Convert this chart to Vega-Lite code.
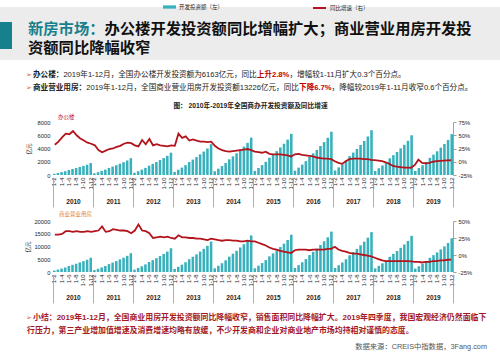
{
"$schema": "https://vega.github.io/schema/vega-lite/v6.json",
"padding": 0,
"spacing": 0,
"bounds": "flush",
"background": "#ffffff",
"config": {"font": "Liberation Sans, Noto Sans CJK SC", "view": {"stroke": null}, "axis": {"labelColor": "#262626", "titleColor": "#262626"}},
"datasets": {
"office": [
{"p":"2010 1-2","y":"2010","v":181,"g":32},{"p":"2010 1-3","y":"2010","v":307,"g":38},{"p":"2010 1-4","y":"2010","v":434,"g":46},{"p":"2010 1-5","y":"2010","v":578,"g":53},{"p":"2010 1-6","y":"2010","v":759,"g":52},{"p":"2010 1-7","y":"2010","v":904,"g":58},{"p":"2010 1-8","y":"2010","v":1048,"g":50},{"p":"2010 1-9","y":"2010","v":1211,"g":44},{"p":"2010 1-10","y":"2010","v":1373,"g":40},{"p":"2010 1-11","y":"2010","v":1554,"g":36},{"p":"2010 1-12","y":"2010","v":1807,"g":34},
{"p":"2011 1-2","y":"2011","v":254,"g":31},{"p":"2011 1-3","y":"2011","v":432,"g":22},{"p":"2011 1-4","y":"2011","v":611,"g":18},{"p":"2011 1-5","y":"2011","v":814,"g":21},{"p":"2011 1-6","y":"2011","v":1068,"g":24},{"p":"2011 1-7","y":"2011","v":1272,"g":25},{"p":"2011 1-8","y":"2011","v":1476,"g":28},{"p":"2011 1-9","y":"2011","v":1704,"g":30},{"p":"2011 1-10","y":"2011","v":1933,"g":34},{"p":"2011 1-11","y":"2011","v":2188,"g":36},{"p":"2011 1-12","y":"2011","v":2544,"g":35},
{"p":"2012 1-2","y":"2012","v":337,"g":31},{"p":"2012 1-3","y":"2012","v":572,"g":29},{"p":"2012 1-4","y":"2012","v":808,"g":41},{"p":"2012 1-5","y":"2012","v":1077,"g":33},{"p":"2012 1-6","y":"2012","v":1414,"g":43},{"p":"2012 1-7","y":"2012","v":1684,"g":31},{"p":"2012 1-8","y":"2012","v":1953,"g":33},{"p":"2012 1-9","y":"2012","v":2256,"g":31},{"p":"2012 1-10","y":"2012","v":2559,"g":30},{"p":"2012 1-11","y":"2012","v":2896,"g":29},{"p":"2012 1-12","y":"2012","v":3367,"g":31},
{"p":"2013 1-2","y":"2013","v":465,"g":30},{"p":"2013 1-3","y":"2013","v":791,"g":53},{"p":"2013 1-4","y":"2013","v":1116,"g":45},{"p":"2013 1-5","y":"2013","v":1489,"g":48},{"p":"2013 1-6","y":"2013","v":1954,"g":40},{"p":"2013 1-7","y":"2013","v":2326,"g":42},{"p":"2013 1-8","y":"2013","v":2698,"g":40},{"p":"2013 1-9","y":"2013","v":3117,"g":38},{"p":"2013 1-10","y":"2013","v":3536,"g":38},{"p":"2013 1-11","y":"2013","v":4001,"g":37},{"p":"2013 1-12","y":"2013","v":4652,"g":38},
{"p":"2014 1-2","y":"2014","v":564,"g":30},{"p":"2014 1-3","y":"2014","v":959,"g":25},{"p":"2014 1-4","y":"2014","v":1354,"g":22},{"p":"2014 1-5","y":"2014","v":1805,"g":20},{"p":"2014 1-6","y":"2014","v":2369,"g":19},{"p":"2014 1-7","y":"2014","v":2821,"g":20},{"p":"2014 1-8","y":"2014","v":3272,"g":21},{"p":"2014 1-9","y":"2014","v":3779,"g":22},{"p":"2014 1-10","y":"2014","v":4287,"g":23},{"p":"2014 1-11","y":"2014","v":4851,"g":24},{"p":"2014 1-12","y":"2014","v":5641,"g":22},
{"p":"2015 1-2","y":"2015","v":621,"g":19},{"p":"2015 1-3","y":"2015","v":1056,"g":18},{"p":"2015 1-4","y":"2015","v":1490,"g":17},{"p":"2015 1-5","y":"2015","v":1987,"g":19},{"p":"2015 1-6","y":"2015","v":2608,"g":15},{"p":"2015 1-7","y":"2015","v":3105,"g":14},{"p":"2015 1-8","y":"2015","v":3602,"g":14},{"p":"2015 1-9","y":"2015","v":4161,"g":14},{"p":"2015 1-10","y":"2015","v":4720,"g":13},{"p":"2015 1-11","y":"2015","v":5341,"g":12},{"p":"2015 1-12","y":"2015","v":6210,"g":10},
{"p":"2016 1-2","y":"2016","v":653,"g":14},{"p":"2016 1-3","y":"2016","v":1111,"g":15},{"p":"2016 1-4","y":"2016","v":1568,"g":13},{"p":"2016 1-5","y":"2016","v":2091,"g":12},{"p":"2016 1-6","y":"2016","v":2744,"g":11},{"p":"2016 1-7","y":"2016","v":3267,"g":10},{"p":"2016 1-8","y":"2016","v":3789,"g":8},{"p":"2016 1-9","y":"2016","v":4377,"g":7},{"p":"2016 1-10","y":"2016","v":4965,"g":6},{"p":"2016 1-11","y":"2016","v":5618,"g":6},{"p":"2016 1-12","y":"2016","v":6533,"g":5},
{"p":"2017 1-2","y":"2017","v":676,"g":1},{"p":"2017 1-3","y":"2017","v":1149,"g":-2},{"p":"2017 1-4","y":"2017","v":1623,"g":-4},{"p":"2017 1-5","y":"2017","v":2164,"g":1},{"p":"2017 1-6","y":"2017","v":2840,"g":5},{"p":"2017 1-7","y":"2017","v":3381,"g":6},{"p":"2017 1-8","y":"2017","v":3921,"g":6},{"p":"2017 1-9","y":"2017","v":4530,"g":6},{"p":"2017 1-10","y":"2017","v":5138,"g":5},{"p":"2017 1-11","y":"2017","v":5814,"g":5},{"p":"2017 1-12","y":"2017","v":6761,"g":3.5},
{"p":"2018 1-2","y":"2018","v":600,"g":3},{"p":"2018 1-3","y":"2018","v":1019,"g":2},{"p":"2018 1-4","y":"2018","v":1439,"g":1},{"p":"2018 1-5","y":"2018","v":1919,"g":-1},{"p":"2018 1-6","y":"2018","v":2518,"g":-4},{"p":"2018 1-7","y":"2018","v":2998,"g":-8},{"p":"2018 1-8","y":"2018","v":3478,"g":-9},{"p":"2018 1-9","y":"2018","v":4017,"g":-10},{"p":"2018 1-10","y":"2018","v":4557,"g":-11},{"p":"2018 1-11","y":"2018","v":5157,"g":-11},{"p":"2018 1-12","y":"2018","v":5996,"g":-11.3},
{"p":"2019 1-2","y":"2019","v":616,"g":-6},{"p":"2019 1-3","y":"2019","v":1048,"g":4},{"p":"2019 1-4","y":"2019","v":1479,"g":-2},{"p":"2019 1-5","y":"2019","v":1972,"g":-3},{"p":"2019 1-6","y":"2019","v":2588,"g":-2},{"p":"2019 1-7","y":"2019","v":3082,"g":0},{"p":"2019 1-8","y":"2019","v":3575,"g":1},{"p":"2019 1-9","y":"2019","v":4129,"g":1.5},{"p":"2019 1-10","y":"2019","v":4684,"g":2},{"p":"2019 1-11","y":"2019","v":5300,"g":2.5},{"p":"2019 1-12","y":"2019","v":6163,"g":2.8}
],
"comm": [
{"p":"2010 1-2","y":"2010","v":560,"g":30},{"p":"2010 1-3","y":"2010","v":952,"g":30},{"p":"2010 1-4","y":"2010","v":1344,"g":31},{"p":"2010 1-5","y":"2010","v":1792,"g":35},{"p":"2010 1-6","y":"2010","v":2352,"g":35},{"p":"2010 1-7","y":"2010","v":2800,"g":34},{"p":"2010 1-8","y":"2010","v":3247,"g":35},{"p":"2010 1-9","y":"2010","v":3751,"g":34},{"p":"2010 1-10","y":"2010","v":4255,"g":34},{"p":"2010 1-11","y":"2010","v":4815,"g":35},{"p":"2010 1-12","y":"2010","v":5599,"g":34},
{"p":"2011 1-2","y":"2011","v":737,"g":35},{"p":"2011 1-3","y":"2011","v":1253,"g":36},{"p":"2011 1-4","y":"2011","v":1769,"g":42},{"p":"2011 1-5","y":"2011","v":2358,"g":34},{"p":"2011 1-6","y":"2011","v":3095,"g":35},{"p":"2011 1-7","y":"2011","v":3685,"g":38},{"p":"2011 1-8","y":"2011","v":4275,"g":37},{"p":"2011 1-9","y":"2011","v":4938,"g":36},{"p":"2011 1-10","y":"2011","v":5601,"g":36},{"p":"2011 1-11","y":"2011","v":6338,"g":35},{"p":"2011 1-12","y":"2011","v":7370,"g":32},
{"p":"2012 1-2","y":"2012","v":931,"g":36},{"p":"2012 1-3","y":"2012","v":1583,"g":45},{"p":"2012 1-4","y":"2012","v":2235,"g":36},{"p":"2012 1-5","y":"2012","v":2980,"g":35},{"p":"2012 1-6","y":"2012","v":3911,"g":32},{"p":"2012 1-7","y":"2012","v":4656,"g":25},{"p":"2012 1-8","y":"2012","v":5401,"g":26},{"p":"2012 1-9","y":"2012","v":6239,"g":27},{"p":"2012 1-10","y":"2012","v":7077,"g":26},{"p":"2012 1-11","y":"2012","v":8008,"g":27},{"p":"2012 1-12","y":"2012","v":9312,"g":25},
{"p":"2013 1-2","y":"2013","v":1195,"g":24},{"p":"2013 1-3","y":"2013","v":2031,"g":29},{"p":"2013 1-4","y":"2013","v":2867,"g":26},{"p":"2013 1-5","y":"2013","v":3822,"g":26},{"p":"2013 1-6","y":"2013","v":5017,"g":25},{"p":"2013 1-7","y":"2013","v":5973,"g":25},{"p":"2013 1-8","y":"2013","v":6928,"g":24},{"p":"2013 1-9","y":"2013","v":8003,"g":24},{"p":"2013 1-10","y":"2013","v":9078,"g":23},{"p":"2013 1-11","y":"2013","v":10273,"g":22},{"p":"2013 1-12","y":"2013","v":11945,"g":24},
{"p":"2014 1-2","y":"2014","v":1435,"g":23},{"p":"2014 1-3","y":"2014","v":2439,"g":22},{"p":"2014 1-4","y":"2014","v":3443,"g":21},{"p":"2014 1-5","y":"2014","v":4591,"g":22},{"p":"2014 1-6","y":"2014","v":6025,"g":22},{"p":"2014 1-7","y":"2014","v":7173,"g":21},{"p":"2014 1-8","y":"2014","v":8321,"g":21},{"p":"2014 1-9","y":"2014","v":9612,"g":20},{"p":"2014 1-10","y":"2014","v":10903,"g":20},{"p":"2014 1-11","y":"2014","v":12338,"g":21},{"p":"2014 1-12","y":"2014","v":14346,"g":20},
{"p":"2015 1-2","y":"2015","v":1461,"g":20},{"p":"2015 1-3","y":"2015","v":2483,"g":18},{"p":"2015 1-4","y":"2015","v":3506,"g":16},{"p":"2015 1-5","y":"2015","v":4674,"g":14},{"p":"2015 1-6","y":"2015","v":6135,"g":11},{"p":"2015 1-7","y":"2015","v":7304,"g":9},{"p":"2015 1-8","y":"2015","v":8472,"g":8},{"p":"2015 1-9","y":"2015","v":9787,"g":6},{"p":"2015 1-10","y":"2015","v":11101,"g":5},{"p":"2015 1-11","y":"2015","v":12562,"g":4},{"p":"2015 1-12","y":"2015","v":14607,"g":3},
{"p":"2016 1-2","y":"2016","v":1584,"g":7},{"p":"2016 1-3","y":"2016","v":2692,"g":8},{"p":"2016 1-4","y":"2016","v":3801,"g":8},{"p":"2016 1-5","y":"2016","v":5068,"g":8},{"p":"2016 1-6","y":"2016","v":6652,"g":7},{"p":"2016 1-7","y":"2016","v":7919,"g":8},{"p":"2016 1-8","y":"2016","v":9186,"g":8},{"p":"2016 1-9","y":"2016","v":10611,"g":8},{"p":"2016 1-10","y":"2016","v":12037,"g":8},{"p":"2016 1-11","y":"2016","v":13621,"g":9},{"p":"2016 1-12","y":"2016","v":15838,"g":9},
{"p":"2017 1-2","y":"2017","v":1564,"g":12},{"p":"2017 1-3","y":"2017","v":2659,"g":8},{"p":"2017 1-4","y":"2017","v":3754,"g":6},{"p":"2017 1-5","y":"2017","v":5005,"g":5},{"p":"2017 1-6","y":"2017","v":6569,"g":3},{"p":"2017 1-7","y":"2017","v":7820,"g":2},{"p":"2017 1-8","y":"2017","v":9071,"g":2},{"p":"2017 1-9","y":"2017","v":10479,"g":1},{"p":"2017 1-10","y":"2017","v":11886,"g":0},{"p":"2017 1-11","y":"2017","v":13450,"g":-1},{"p":"2017 1-12","y":"2017","v":15640,"g":-2},
{"p":"2018 1-2","y":"2018","v":1418,"g":-4},{"p":"2018 1-3","y":"2018","v":2410,"g":-6},{"p":"2018 1-4","y":"2018","v":3402,"g":-8},{"p":"2018 1-5","y":"2018","v":4537,"g":-9},{"p":"2018 1-6","y":"2018","v":5954,"g":-9},{"p":"2018 1-7","y":"2018","v":7089,"g":-9},{"p":"2018 1-8","y":"2018","v":8223,"g":-9},{"p":"2018 1-9","y":"2018","v":9499,"g":-9},{"p":"2018 1-10","y":"2018","v":10775,"g":-9},{"p":"2018 1-11","y":"2018","v":12192,"g":-9},{"p":"2018 1-12","y":"2018","v":14177,"g":-9.4},
{"p":"2019 1-2","y":"2019","v":1323,"g":-10},{"p":"2019 1-3","y":"2019","v":2248,"g":-10},{"p":"2019 1-4","y":"2019","v":3174,"g":-11},{"p":"2019 1-5","y":"2019","v":4232,"g":-10},{"p":"2019 1-6","y":"2019","v":5555,"g":-10},{"p":"2019 1-7","y":"2019","v":6613,"g":-9},{"p":"2019 1-8","y":"2019","v":7671,"g":-9},{"p":"2019 1-9","y":"2019","v":8861,"g":-8},{"p":"2019 1-10","y":"2019","v":10052,"g":-8},{"p":"2019 1-11","y":"2019","v":11374,"g":-7},{"p":"2019 1-12","y":"2019","v":13226,"g":-6.7}
]
},
"vconcat": [
{
 "width": 500, "height": 53,
 "view": {"fill": "#ececec", "stroke": null},
 "data": {"values": [{}]},
 "layer": [
  {"mark": {"type": "rect", "color": "#16818d"}, "encoding": {"x": {"value": 0}, "x2": {"value": 12}, "y": {"value": 15}, "y2": {"value": 42}}},
  {"mark": {"type": "text", "x": 28, "y": 21.5, "align": "left", "baseline": "middle", "fontSize": 15.3, "fontWeight": "bold", "color": "#16818d"}, "encoding": {"text": {"value": "新房市场："}}},
  {"mark": {"type": "text", "x": 104.5, "y": 21.5, "align": "left", "baseline": "middle", "fontSize": 15.3, "fontWeight": "bold", "color": "#111111"}, "encoding": {"text": {"value": "办公楼开发投资额同比增幅扩大；商业营业用房开发投"}}},
  {"mark": {"type": "text", "x": 28, "y": 41, "align": "left", "baseline": "middle", "fontSize": 15.3, "fontWeight": "bold", "color": "#111111"}, "encoding": {"text": {"value": "资额同比降幅收窄"}}}
 ]
},
{
 "width": 500, "height": 62,
 "data": {"values": [{}]},
 "layer": [
  {"mark": {"type": "text", "x": 28.5, "y": 15.3, "align": "center", "baseline": "middle", "fontSize": 7, "color": "#e3612a"}, "encoding": {"text": {"value": "➢"}}},
  {"mark": {"type": "text", "x": 28.5, "y": 28, "align": "center", "baseline": "middle", "fontSize": 7, "color": "#e3612a"}, "encoding": {"text": {"value": "➢"}}},
  {"mark": {"type": "text", "x": 33, "y": 15.3, "align": "left", "baseline": "middle", "fontSize": 7.6, "fontWeight": "bold", "color": "#222222"}, "encoding": {"text": {"value": "办公楼："}}},
  {"mark": {"type": "text", "x": 63.4, "y": 15.3, "align": "left", "baseline": "middle", "fontSize": 7.6, "color": "#222222"}, "encoding": {"text": {"value": "2019年1-12月，全国办公楼开发投资额为6163亿元，同比"}}},
  {"mark": {"type": "text", "x": 256.8, "y": 15.3, "align": "left", "baseline": "middle", "fontSize": 7.6, "fontWeight": "bold", "color": "#c00000"}, "encoding": {"text": {"value": "上升2.8%"}}},
  {"mark": {"type": "text", "x": 289.4, "y": 15.3, "align": "left", "baseline": "middle", "fontSize": 7.6, "color": "#222222"}, "encoding": {"text": {"value": "，增幅较1-11月扩大0.3个百分点。"}}},
  {"mark": {"type": "text", "x": 33, "y": 28, "align": "left", "baseline": "middle", "fontSize": 7.6, "fontWeight": "bold", "color": "#222222"}, "encoding": {"text": {"value": "商业营业用房："}}},
  {"mark": {"type": "text", "x": 86.2, "y": 28, "align": "left", "baseline": "middle", "fontSize": 7.6, "color": "#222222"}, "encoding": {"text": {"value": "2019年1-12月，全国商业营业用房开发投资额13226亿元，同比"}}},
  {"mark": {"type": "text", "x": 299.1, "y": 28, "align": "left", "baseline": "middle", "fontSize": 7.6, "fontWeight": "bold", "color": "#c00000"}, "encoding": {"text": {"value": "下降6.7%"}}},
  {"mark": {"type": "text", "x": 331.6, "y": 28, "align": "left", "baseline": "middle", "fontSize": 7.6, "color": "#222222"}, "encoding": {"text": {"value": "，降幅较2019年1-11月收窄0.6个百分点。"}}},
  {"mark": {"type": "text", "x": 250.5, "y": 46.3, "align": "center", "baseline": "middle", "fontSize": 6.7, "fontWeight": "bold", "color": "#222222"}, "encoding": {"text": {"value": "图： 2010年-2019年全国商办开发投资额及同比增速"}}},
  {"mark": {"type": "text", "x": 58, "y": 57, "align": "left", "baseline": "middle", "fontSize": 5.5, "color": "#c0141c"}, "encoding": {"text": {"value": "办公楼"}}}
 ]
},
{
 "width": 500, "height": 53,
 "data": {"name": "office"},
 "layer": [
  {"mark": {"type": "bar"}, "encoding": {
    "x": {"field": "p", "type": "ordinal", "sort": null, "scale": {"range": [53, 453], "paddingInner": 0.3, "paddingOuter": 0}, "axis": {"orient": "bottom", "title": null, "labelAngle": -90, "labelFontSize": 6, "labelPadding": 2, "ticks": false, "domain": false, "labelOverlap": false, "labelBound": false, "labelExpr": "indexof(['1-2','1-4','1-6','1-8','1-10','1-12'], split(datum.value, ' ')[1]) >= 0 ? split(datum.value, ' ')[1] : ''"}},
    "y": {"field": "v", "type": "quantitative", "scale": {"domain": [0, 8000]}, "axis": {"orient": "left", "offset": -53, "values": [0, 2000, 4000, 6000, 8000], "format": "d", "domain": false, "ticks": false, "grid": false, "labelFontSize": 5.8, "labelPadding": 3, "title": "亿元", "titleFontSize": 5.5, "titleFontWeight": "normal", "titlePadding": 6}},
    "fill": {"datum": "开发投资额（左）", "type": "nominal", "scale": {"range": ["#38b1bc"]}, "legend": {"orient": "none", "legendX": 163, "legendY": -6.5, "title": null, "symbolType": "M-1,-0.25H1V0.25H-1Z", "symbolSize": 169, "symbolStrokeWidth": 0, "labelFontSize": 5.5, "labelColor": "#262626", "padding": 0, "labelOffset": 3}}
  }},
  {"mark": {"type": "line", "strokeWidth": 1.8}, "encoding": {
    "x": {"field": "p", "type": "ordinal", "sort": null, "scale": {"range": [53, 453], "paddingInner": 0.3, "paddingOuter": 0}, "axis": null},
    "y": {"field": "g", "type": "quantitative", "scale": {"domain": [-25, 75]}, "axis": {"orient": "right", "offset": -47, "values": [-25, 0, 25, 50, 75], "labelExpr": "datum.value + '%'", "domain": true, "domainColor": "#8c8c8c", "domainWidth": 0.8, "ticks": true, "tickSize": 3, "tickColor": "#8c8c8c", "tickWidth": 0.8, "grid": false, "labelFontSize": 5.8, "labelPadding": 2, "title": null}},
    "stroke": {"datum": "同比增速（右）", "type": "nominal", "scale": {"range": ["#b3141c"]}, "legend": {"orient": "none", "legendX": 312, "legendY": -6.5, "title": null, "symbolType": "stroke", "symbolSize": 169, "symbolStrokeWidth": 2, "labelFontSize": 5.5, "labelColor": "#262626", "padding": 0, "labelOffset": 3}}
  }},
  {"mark": {"type": "rule", "strokeOpacity": 0}, "encoding": {
    "x": {"field": "y", "type": "ordinal", "sort": null, "scale": {"range": [53, 453], "paddingInner": 0, "paddingOuter": 0}, "axis": {"orient": "bottom", "offset": 3, "title": null, "domain": false, "ticks": true, "tickBand": "extent", "tickSize": 29, "tickColor": "#9a9a9a", "tickWidth": 0.8, "labelPadding": -9, "labelFontSize": 6.5, "labelFontWeight": "bold", "labelAngle": 0}}
  }}
 ],
 "resolve": {"scale": {"x": "independent", "y": "independent"}}
},
{
 "width": 500, "height": 46,
 "data": {"values": [{}]},
 "mark": {"type": "text", "x": 59, "y": 39.3, "align": "left", "baseline": "middle", "fontSize": 5.5, "color": "#e07b2a"},
 "encoding": {"text": {"value": "商业营业用房"}}
},
{
 "width": 500, "height": 51,
 "data": {"name": "comm"},
 "layer": [
  {"mark": {"type": "bar"}, "encoding": {
    "x": {"field": "p", "type": "ordinal", "sort": null, "scale": {"range": [53, 453], "paddingInner": 0.3, "paddingOuter": 0}, "axis": {"orient": "bottom", "title": null, "labelAngle": -90, "labelFontSize": 6, "labelPadding": 2, "ticks": false, "domain": false, "labelOverlap": false, "labelBound": false, "labelExpr": "indexof(['1-2','1-4','1-6','1-8','1-10','1-12'], split(datum.value, ' ')[1]) >= 0 ? split(datum.value, ' ')[1] : ''"}},
    "y": {"field": "v", "type": "quantitative", "scale": {"domain": [0, 20000]}, "axis": {"orient": "left", "offset": -53, "values": [0, 5000, 10000, 15000, 20000], "format": "d", "domain": false, "ticks": false, "grid": false, "labelFontSize": 5.8, "labelPadding": 3, "title": "亿元", "titleFontSize": 5.5, "titleFontWeight": "normal", "titlePadding": 3}},
    "fill": {"datum": "开发投资额（左）", "type": "nominal", "scale": {"range": ["#38b1bc"]}, "legend": {"orient": "none", "legendX": 163, "legendY": -7.8, "title": null, "symbolType": "M-1,-0.25H1V0.25H-1Z", "symbolSize": 169, "symbolStrokeWidth": 0, "labelFontSize": 5.5, "labelColor": "#262626", "padding": 0, "labelOffset": 3}}
  }},
  {"mark": {"type": "line", "strokeWidth": 1.8}, "encoding": {
    "x": {"field": "p", "type": "ordinal", "sort": null, "scale": {"range": [53, 453], "paddingInner": 0.3, "paddingOuter": 0}, "axis": null},
    "y": {"field": "g", "type": "quantitative", "scale": {"domain": [-25, 50]}, "axis": {"orient": "right", "offset": -47, "values": [-25, 0, 25, 50], "labelExpr": "datum.value + '%'", "domain": true, "domainColor": "#8c8c8c", "domainWidth": 0.8, "ticks": true, "tickSize": 3, "tickColor": "#8c8c8c", "tickWidth": 0.8, "grid": false, "labelFontSize": 5.8, "labelPadding": 2, "title": null}},
    "stroke": {"datum": "同比增速（右）", "type": "nominal", "scale": {"range": ["#e8802f"]}, "legend": {"orient": "none", "legendX": 312, "legendY": -7.8, "title": null, "symbolType": "stroke", "symbolSize": 169, "symbolStrokeWidth": 2, "labelFontSize": 5.5, "labelColor": "#262626", "padding": 0, "labelOffset": 3}}
  }},
  {"mark": {"type": "rule", "strokeOpacity": 0}, "encoding": {
    "x": {"field": "y", "type": "ordinal", "sort": null, "scale": {"range": [53, 453], "paddingInner": 0, "paddingOuter": 0}, "axis": {"orient": "bottom", "offset": 3, "title": null, "domain": false, "ticks": true, "tickBand": "extent", "tickSize": 28, "tickColor": "#9a9a9a", "tickWidth": 0.8, "labelPadding": -9, "labelFontSize": 6.5, "labelFontWeight": "bold", "labelAngle": 0}}
  }}
 ],
 "resolve": {"scale": {"x": "independent", "y": "independent"}}
},
{
 "width": 500, "height": 88,
 "data": {"values": [{}]},
 "layer": [
  {"mark": {"type": "text", "x": 28.5, "y": 46, "align": "center", "baseline": "middle", "fontSize": 7, "color": "#e3612a"}, "encoding": {"text": {"value": "➢"}}},
  {"mark": {"type": "text", "x": 33, "y": 46, "align": "left", "baseline": "middle", "fontSize": 7.9, "fontWeight": "bold", "color": "#a3191f"}, "encoding": {"text": {"value": "小结：2019年1-12月，全国商业用房开发投资额同比降幅收窄，销售面积同比降幅扩大。2019年四季度，我国宏观经济仍然面临下"}}},
  {"mark": {"type": "text", "x": 27, "y": 59, "align": "left", "baseline": "middle", "fontSize": 7.9, "fontWeight": "bold", "color": "#a3191f"}, "encoding": {"text": {"value": "行压力，第三产业增加值增速及消费增速均略有放缓，不少开发商和企业对商业地产市场均持相对谨慎的态度。"}}},
  {"mark": {"type": "text", "x": 487, "y": 75, "align": "right", "baseline": "middle", "fontSize": 7.3, "color": "#555555"}, "encoding": {"text": {"value": "数据来源：CREIS中指数据，3Fang.com"}}}
 ]
}
]
}
